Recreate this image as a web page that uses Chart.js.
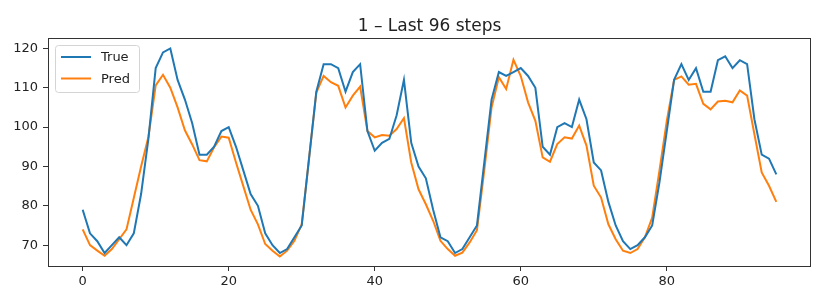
<!DOCTYPE html>
<html>
<head>
<meta charset="utf-8">
<script src="https://cdn.jsdelivr.net/npm/chart.js@4/dist/chart.umd.min.js"></script>
<style>
  html, body { margin: 0; padding: 0; background: #fff; }
  #wrap { width: 835px; height: 293px; }
</style>
</head>
<body>
<div id="wrap"><canvas id="chart" width="835" height="293"></canvas></div>
<script>
var chartTitle = "1 \u2013 Last 96 steps"
var seriesNames = ["True", "Pred"]
var seriesColors = ["#1f77b4", "#ff7f0e"]

var trueVals = [79, 73, 71, 68, 70, 72, 70, 73, 83, 97, 115, 119, 120, 112, 107, 101, 93, 93, 95, 99,
    100, 95, 89, 83, 80, 73, 70, 68, 69, 72, 75, 92, 109, 116, 116, 115, 109, 114, 116, 99,
    94, 96, 97, 103, 112, 96, 90, 87, 79, 72, 71, 68, 69, 72, 75, 91, 107, 114, 113, 114,
    115, 113, 110, 95, 93, 100, 101, 100, 107, 102, 91, 89, 81, 75, 71, 69, 70, 72, 75, 86,
    99, 112, 116, 112, 115, 109, 109, 117, 118, 115, 117, 116, 102, 93, 92, 88]

var predVals = [74, 70, 68.6, 67.3, 69, 71.5, 74, 82, 90, 97.5, 110.6, 113.3, 110, 105, 99.2, 95.6, 91.6, 91.3, 94.9, 97.6,
    97.3, 91, 85, 79, 75.3, 70.3, 68.6, 67.1, 68.6, 71.1, 75.3, 92, 108.8, 113, 111.4, 110.5, 105, 108, 110.3, 99,
    97.4, 98, 97.8, 99.5, 102.3, 91, 84.2, 80.4, 76.2, 71.1, 69, 67.3, 68.1, 70.7, 73.8, 89, 105, 112.7, 109.7, 117.1,
    113, 106.3, 101.6, 92.3, 91.2, 95.7, 97.4, 97.1, 100.4, 95.3, 85.1, 82.1, 75.3, 71.5, 68.6, 68, 69, 72, 77, 89,
    101.6, 112, 112.9, 110.8, 111, 105.9, 104.5, 106.5, 106.7, 106.3, 109.3, 108, 98.2, 88.5, 85.1, 81]

var xTicks = [0, 20, 40, 60, 80]
var yTicks = [70, 80, 90, 100, 110, 120]

var xMin = -4.75, xMax = 99.75
var yMin = 64.45, yMax = 122.65

function toPoints(vals) {
    return vals.map(function (v, i) { return { x: i, y: v } })
}

var frameAndLegend = {
    id: "frameAndLegend",
    afterDraw: function (chart) {
        var ctx = chart.ctx
        var a = chart.chartArea
        ctx.save()

        // axes box
        ctx.strokeStyle = "#333"
        ctx.lineWidth = 1
        ctx.strokeRect(Math.round(a.left) + 0.5, Math.round(a.top) + 0.5,
            Math.round(a.right - a.left) - 1, Math.round(a.bottom - a.top) - 1)

        // title
        ctx.fillStyle = "#222"
        ctx.font = "17px 'DejaVu Sans'"
        ctx.textAlign = "center"
        ctx.textBaseline = "alphabetic"
        ctx.fillText(chartTitle, (a.left + a.right) / 2, a.top - 7)

        // legend
        var bx = a.left + 7, by = a.top + 7, bw = 84, bh = 47
        ctx.beginPath()
        ctx.roundRect(bx + 0.5, by + 0.5, bw, bh, 3)
        ctx.fillStyle = "rgba(255,255,255,0.8)"
        ctx.fill()
        ctx.strokeStyle = "#d4d4d4"
        ctx.stroke()
        ctx.font = "13px 'DejaVu Sans'"
        ctx.textAlign = "left"
        ctx.textBaseline = "middle"
        seriesNames.forEach(function (name, i) {
            var ly = by + 12 + i * 21.5
            ctx.strokeStyle = seriesColors[i]
            ctx.lineWidth = 2
            ctx.beginPath()
            ctx.moveTo(bx + 6, ly)
            ctx.lineTo(bx + 36, ly)
            ctx.stroke()
            ctx.fillStyle = "#222"
            ctx.fillText(name, bx + 46, ly + 1)
        })
        ctx.restore()
    }
}

new Chart("chart", {
    type: "line",
    data: {
        datasets: [
            {
                label: seriesNames[0],
                data: toPoints(trueVals),
                borderColor: seriesColors[0],
                backgroundColor: seriesColors[0],
                borderWidth: 2,
                pointRadius: 0,
                tension: 0,
                fill: false
            },
            {
                label: seriesNames[1],
                data: toPoints(predVals),
                borderColor: seriesColors[1],
                backgroundColor: seriesColors[1],
                borderWidth: 2,
                pointRadius: 0,
                tension: 0,
                fill: false
            }
        ]
    },
    options: {
        responsive: false,
        devicePixelRatio: 1,
        animation: false,
        layout: { padding: { top: 38, right: 24, left: 0, bottom: 0 } },
        plugins: {
            legend: { display: false },
            title: { display: false },
            tooltip: { enabled: false }
        },
        scales: {
            x: {
                type: "linear",
                min: xMin,
                max: xMax,
                afterBuildTicks: function (scale) {
                    scale.ticks = xTicks.map(function (v) { return { value: v } })
                },
                afterFit: function (scale) { scale.height = 26 },
                grid: { drawOnChartArea: false, color: "#333", tickLength: 4, tickWidth: 1 },
                border: { display: false },
                ticks: {
                    color: "#222",
                    font: { family: "'DejaVu Sans'", size: 13 },
                    padding: 3,
                    maxRotation: 0,
                    autoSkip: false
                }
            },
            y: {
                type: "linear",
                min: yMin,
                max: yMax,
                afterBuildTicks: function (scale) {
                    scale.ticks = yTicks.map(function (v) { return { value: v } })
                },
                afterFit: function (scale) { scale.width = 48 },
                grid: { drawOnChartArea: false, color: "#333", tickLength: 5, tickWidth: 1 },
                border: { display: false },
                ticks: {
                    color: "#222",
                    font: { family: "'DejaVu Sans'", size: 13 },
                    padding: 5,
                    autoSkip: false
                }
            }
        }
    },
    plugins: [frameAndLegend]
});
</script>
</body>
</html>
